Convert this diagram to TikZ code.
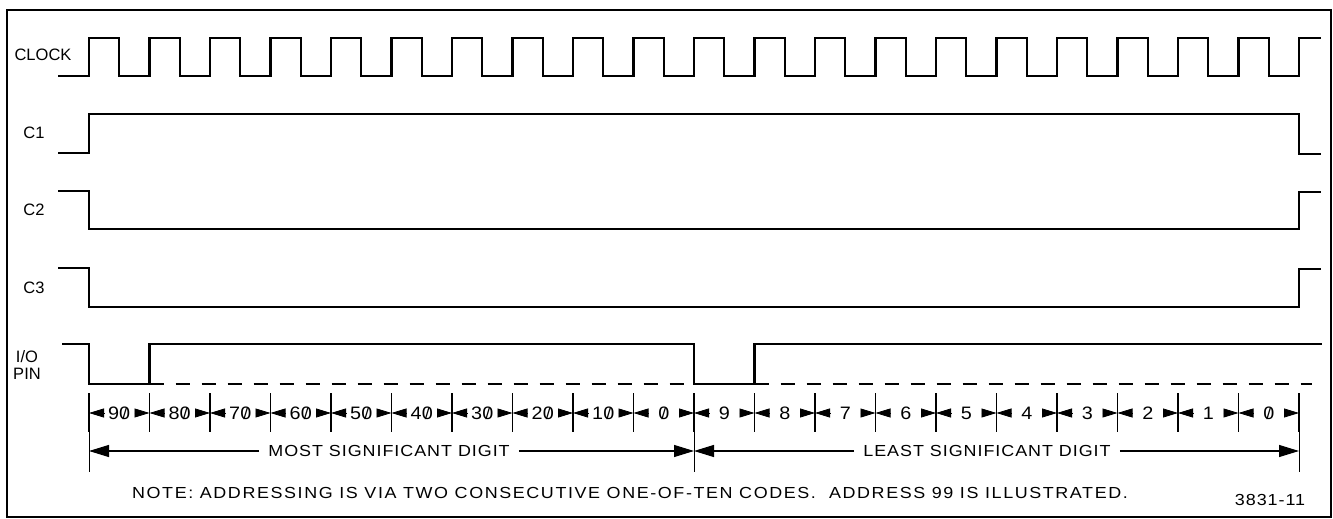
\documentclass[tikz,border=0pt]{standalone}
\usepackage{fontspec}
\setmainfont{Liberation Sans}
\newfontfamily\wideA{Liberation Sans}[FakeStretch=1.12, LetterSpace=10]
\newfontfamily\wideB{Liberation Sans}[FakeStretch=1.12, LetterSpace=6]
\newfontfamily\wideC{Liberation Sans}[FakeStretch=1.1, LetterSpace=4]
\usepackage{graphicx}
\usetikzlibrary{arrows.meta,calc}
\newcommand\sz{\ooalign{0\cr\hidewidth\raisebox{.02ex}{\scalebox{.85}{/}}\hidewidth}}
\begin{document}
\begin{tikzpicture}[x=1pt,y=-1pt,
  sig/.style={line width=2.3pt, line join=miter},
  dsh/.style={line width=1.8pt, dash pattern=on 14pt off 12pt},
  tick/.style={line width=1.4pt},
  longtick/.style={line width=1pt},
  lbl/.style={font=\fontsize{16.5}{18}\selectfont, inner sep=0pt},
  span/.style={font=\wideB\fontsize{16}{18}\selectfont, inner sep=0pt},
  notestyle/.style={font=\wideA\fontsize{16}{18}\selectfont, inner sep=0pt},
  dig/.style={font=\wideC\fontsize{18}{20}\selectfont, inner sep=0pt},
  tipA/.style={line width=0.8pt, -{Triangle[length=15pt,width=9pt]}},
  tipB/.style={line width=1.2pt, -{Triangle[length=20pt,width=12pt]}}]
\useasboundingbox (0,0) rectangle (1333,519);
\draw[line width=1.5pt] (7,10) rectangle (1331,517);

% labels
\node[lbl] (lclk) at (43,55) {CLOCK};
\node[lbl] (lc1) at (34,133) {C1};
\node[lbl] (lc2) at (34,210) {C2};
\node[lbl] (lc3) at (34,288) {C3};
\node[lbl] (lio) at (27,357) {I/O};
\node[lbl] (lpin) at (27,374) {PIN};

% clock
\draw[sig] (58,76) -- (89,76)
  foreach \k in {0,...,19} { -- ({89+\k*60.5},38) -- ({119.25+\k*60.5},38)
     -- ({119.25+\k*60.5},76) -- ({149.5+\k*60.5},76) }
  -- (1299,38) -- (1321,38);

% C1, C2, C3
\draw[sig] (58,153) -- (89,153) -- (89,114) -- (1299,114) -- (1299,154) -- (1321,154);
\draw[sig] (58,191) -- (89,191) -- (89,229) -- (1299,229) -- (1299,192) -- (1321,192);
\draw[sig] (58,268) -- (89,268) -- (89,307) -- (1299,307) -- (1299,269) -- (1321,269);

% I/O pin
\draw[sig] (62,344) -- (89,344) -- (89,384) -- (149.5,384) -- (149.5,344) -- (694,344)
  -- (694,384) -- (754.5,384) -- (754.5,344) -- (1322,344);
\draw[dsh] (149.5,384) -- (694,384);
\draw[dsh] (754.5,384) -- (1312,384);

% ticks
\foreach \k in {0,...,20} {
  \coordinate (t\k) at ({89+\k*60.5},413);
  \draw[tick] ({89+\k*60.5},393) -- ({89+\k*60.5},432);
}
\foreach \k in {0,10,20} {
  \draw[longtick] ({89+\k*60.5},432) -- ({89+\k*60.5},472);
}

% digit intervals
\foreach \lab [count=\i from 0] in {9\sz,8\sz,7\sz,6\sz,5\sz,4\sz,3\sz,2\sz,1\sz,\sz,9,8,7,6,5,4,3,2,1,\sz} {
  \pgfmathtruncatemacro{\j}{\i+1}
  \node[dig] (d\i) at ({89+(\i+0.5)*60.5},413) {\lab};
  \draw[tipA] ($(t\i)+(15,0)$) -- (t\i);
  \draw[tipA] ($(t\j)+(-15,0)$) -- (t\j);
}

% digit spans
\coordinate (m0) at (89,451);
\coordinate (m1) at (694,451);
\coordinate (m2) at (1299,451);
\node[span, inner xsep=9pt] (msd) at (389,451) {MOST SIGNIFICANT DIGIT};
\node[span, inner xsep=9pt] (lsd) at (987,451) {LEAST SIGNIFICANT DIGIT};
\draw[tipB] (msd.west) -- (m0);
\draw[tipB] (msd.east) -- (m1);
\draw[tipB] (lsd.west) -- (m1);
\draw[tipB] (lsd.east) -- (m2);

% note
\node[notestyle] (note) at (630,493) {NOTE: ADDRESSING IS VIA TWO CONSECUTIVE ONE-OF-TEN CODES.\ \ ADDRESS 99 IS ILLUSTRATED.};
\node[span] (fig) at (1270,500) {3831-11};
\end{tikzpicture}
\end{document}
